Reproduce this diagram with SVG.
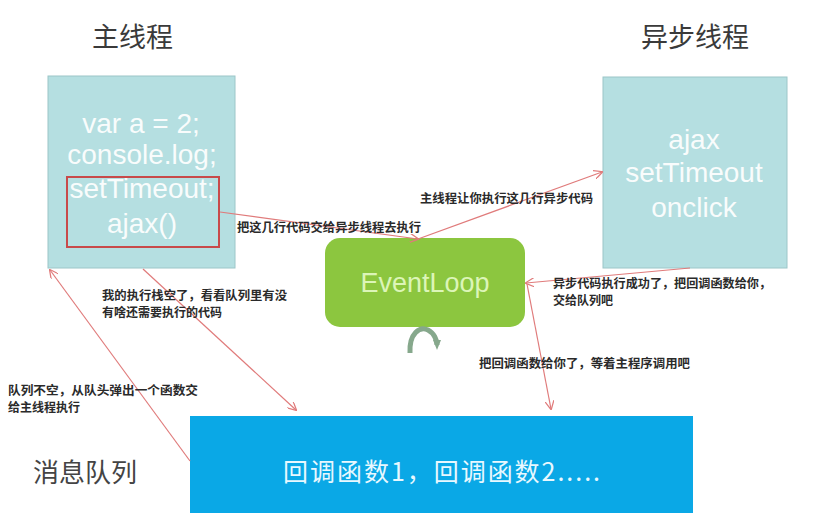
<svg xmlns="http://www.w3.org/2000/svg" width="814" height="528" viewBox="0 0 814 528">
<defs>
<style>
.title{font-family:"Noto Sans CJK SC",sans-serif;font-size:27px;fill:#3a3a3a}
.code{font-family:"Liberation Sans",Arial,sans-serif;font-size:28px;fill:#ffffff;text-anchor:middle;opacity:0.92}
.lbl{font-family:"Noto Sans CJK SC",sans-serif;font-size:12px;fill:#2a2a2a;font-weight:bold}
.conn{stroke:#e07b7b;stroke-width:1.2;fill:none}
.box{fill:#b5dfe1;stroke:#9cc6c8;stroke-width:1}
</style>
<marker id="ah" viewBox="0 0 10 10" refX="9" refY="5" markerWidth="9" markerHeight="9" orient="auto-start-reverse" markerUnits="userSpaceOnUse">
<path d="M0,0 L10,5 L0,10" fill="none" stroke="#e07b7b" stroke-width="1.4"/>
</marker>
<marker id="loopHead" viewBox="0 0 10 10" refX="5" refY="5" markerWidth="10" markerHeight="10" orient="auto" markerUnits="userSpaceOnUse">
<path d="M0,1 L10,5 L0,9 Z" fill="#86a88c"/>
</marker>
</defs>
<rect width="814" height="528" fill="#ffffff"/>

<text class="title" x="92" y="47">主线程</text>
<text class="title" x="641" y="47">异步线程</text>
<text class="title" x="33" y="482" style="font-size:26px;fill:#444">消息队列</text>

<g id="main-thread">
<rect class="box" x="48" y="76" width="187" height="192"/>
<text class="code" x="141" y="133">var a = 2;</text>
<text class="code" x="142" y="164">console.log;</text>
<text class="code" x="142" y="198">setTimeout;</text>
<text class="code" x="142" y="233">ajax()</text>
<rect x="67" y="177" width="152" height="70" fill="none" stroke="#c84a4a" stroke-width="2"/>
</g>

<g id="async-thread">
<rect class="box" x="603" y="77" width="184" height="191"/>
<text class="code" x="694" y="149">ajax</text>
<text class="code" x="694" y="182">setTimeout</text>
<text class="code" x="694" y="217">onclick</text>
</g>

<g id="event-loop">
<rect x="325" y="238" width="200" height="89" rx="15" fill="#8cc63f"/>
<text x="425" y="292" text-anchor="middle" style="font-family:'Liberation Sans',Arial,sans-serif;font-size:27px;fill:#dcf5b8">EventLoop</text>
<path d="M410,353 C409,333 420,326 428,330 C434,333 437,340 437,345" fill="none" stroke="#86a88c" stroke-width="5" marker-end="url(#loopHead)"/>
</g>

<g id="message-queue">
<rect x="190" y="416" width="503" height="97" fill="#0aa8e6"/>
<text x="283" y="481" textLength="317" lengthAdjust="spacing" style="font-family:'Noto Sans CJK SC',sans-serif;font-size:25px;fill:#e8f8ff">回调函数1，回调函数2.....</text>
</g>

<g id="connectors">
<line class="conn" x1="220" y1="212" x2="418" y2="239" marker-end="url(#ah)"/>
<line class="conn" x1="418" y1="239" x2="602" y2="172" marker-end="url(#ah)"/>
<line class="conn" x1="690" y1="268" x2="526" y2="283" marker-end="url(#ah)"/>
<line class="conn" x1="527" y1="284" x2="551" y2="409" marker-end="url(#ah)"/>
<line class="conn" x1="143" y1="269" x2="296" y2="410" marker-end="url(#ah)"/>
<line class="conn" x1="190" y1="461" x2="50" y2="270" marker-end="url(#ah)"/>
</g>

<g id="labels">
<text class="lbl" x="237" y="232" textLength="184" lengthAdjust="spacingAndGlyphs">把这几行代码交给异步线程去执行</text>
<text class="lbl" x="420" y="203" textLength="173" lengthAdjust="spacingAndGlyphs">主线程让你执行这几行异步代码</text>
<text class="lbl" x="553" y="288" textLength="218" lengthAdjust="spacingAndGlyphs">异步代码执行成功了，把回调函数给你，</text>
<text class="lbl" x="553" y="305">交给队列吧</text>
<text class="lbl" x="479" y="368" textLength="211" lengthAdjust="spacingAndGlyphs">把回调函数给你了，等着主程序调用吧</text>
<text class="lbl" x="102" y="300" textLength="185" lengthAdjust="spacingAndGlyphs">我的执行栈空了，看看队列里有没</text>
<text class="lbl" x="102" y="317">有啥还需要执行的代码</text>
<text class="lbl" x="8" y="395" textLength="190" lengthAdjust="spacingAndGlyphs">队列不空，从队头弹出一个函数交</text>
<text class="lbl" x="8" y="412">给主线程执行</text>
</g>
</svg>
